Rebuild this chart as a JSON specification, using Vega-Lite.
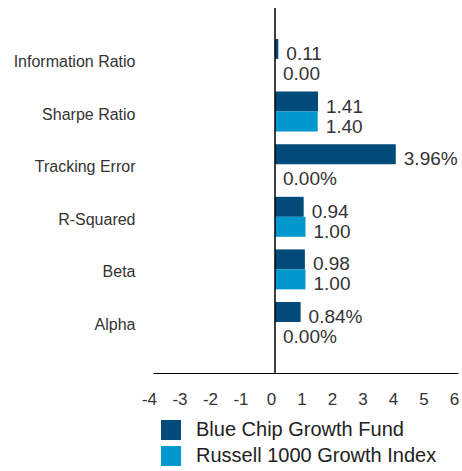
{
  "$schema": "https://vega.github.io/schema/vega-lite/v6.json",
  "width": 305,
  "height": 365,
  "autosize": "none",
  "padding": {"left": 153, "top": 8, "right": 4, "bottom": 98},
  "config": {"view": {"stroke": null}, "font": "Liberation Sans"},
  "data": {
    "values": [
      {"metric": "Information Ratio", "series": "Blue Chip Growth Fund", "value": 0.11, "label": "0.11"},
      {"metric": "Information Ratio", "series": "Russell 1000 Growth Index", "value": 0.0, "label": "0.00"},
      {"metric": "Sharpe Ratio", "series": "Blue Chip Growth Fund", "value": 1.41, "label": "1.41"},
      {"metric": "Sharpe Ratio", "series": "Russell 1000 Growth Index", "value": 1.40, "label": "1.40"},
      {"metric": "Tracking Error", "series": "Blue Chip Growth Fund", "value": 3.96, "label": "3.96%"},
      {"metric": "Tracking Error", "series": "Russell 1000 Growth Index", "value": 0.0, "label": "0.00%"},
      {"metric": "R-Squared", "series": "Blue Chip Growth Fund", "value": 0.94, "label": "0.94"},
      {"metric": "R-Squared", "series": "Russell 1000 Growth Index", "value": 1.00, "label": "1.00"},
      {"metric": "Beta", "series": "Blue Chip Growth Fund", "value": 0.98, "label": "0.98"},
      {"metric": "Beta", "series": "Russell 1000 Growth Index", "value": 1.00, "label": "1.00"},
      {"metric": "Alpha", "series": "Blue Chip Growth Fund", "value": 0.84, "label": "0.84%"},
      {"metric": "Alpha", "series": "Russell 1000 Growth Index", "value": 0.0, "label": "0.00%"}
    ]
  },
  "encoding": {
    "y": {
      "field": "metric", "type": "nominal",
      "sort": ["Information Ratio", "Sharpe Ratio", "Tracking Error", "R-Squared", "Beta", "Alpha"],
      "scale": {"paddingInner": 0.24, "paddingOuter": 0.59},
      "axis": {"title": null, "domain": false, "ticks": false, "labelFont": "Liberation Sans", "labelFontSize": 16, "labelColor": "#333333", "labelPadding": 18, "labelOffset": 3, "labelLimit": 200}
    },
    "yOffset": {"field": "series", "type": "nominal", "sort": ["Blue Chip Growth Fund", "Russell 1000 Growth Index"]},
    "x": {
      "field": "value", "type": "quantitative",
      "scale": {"domain": [-4, 6], "nice": false},
      "axis": {"title": null, "grid": false, "ticks": false, "domainColor": "#000000", "domainWidth": 1, "values": [-4, -3, -2, -1, 0, 1, 2, 3, 4, 5, 6], "labelExpr": "'' + datum.value", "labelFlush": false, "labelOverlap": false, "labelFontSize": 17, "labelColor": "#333333", "labelPadding": 18, "labelOffset": -4}
    }
  },
  "layer": [
    {
      "mark": {"type": "bar"},
      "encoding": {
        "color": {
          "field": "series", "type": "nominal",
          "scale": {"domain": ["Blue Chip Growth Fund", "Russell 1000 Growth Index"], "range": ["#004b7a", "#0098cd"]},
          "legend": {"title": null, "orient": "none", "legendX": 8, "legendY": 412, "direction": "vertical", "symbolType": "square", "symbolSize": 400, "symbolStrokeWidth": 0, "labelFontSize": 20, "labelOffset": 15, "labelLimit": 400, "rowPadding": 6, "labelColor": "#222222", "padding": 0}
        }
      }
    },
    {
      "mark": {"type": "text", "align": "left", "baseline": "middle", "dx": 8, "dy": 5, "fontSize": 19, "color": "#333333"},
      "encoding": {"text": {"field": "label"}}
    },
    {
      "data": {"values": [{"z": 0}]},
      "mark": {"type": "rule", "color": "#000000", "strokeWidth": 1.5},
      "encoding": {"x": {"field": "z", "type": "quantitative"}, "y": null, "yOffset": null}
    }
  ]
}
